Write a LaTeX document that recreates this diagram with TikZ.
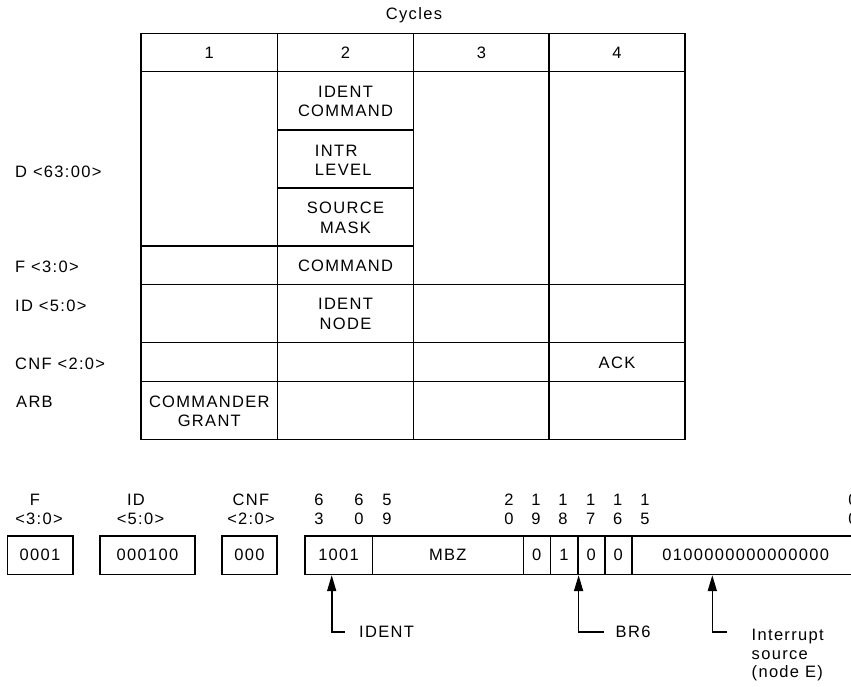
\documentclass[tikz,border=0pt]{standalone}
\usepackage{fontspec}
\setmainfont{Liberation Sans}[LetterSpace=8]
\usetikzlibrary{arrows.meta}
\begin{document}
\begin{tikzpicture}[x=1pt,y=-1pt,line width=1.4pt,
  every node/.style={inner sep=0pt,font=\fontsize{16.5}{19.5}\selectfont},
  txt/.style={align=center},
  rowlbl/.style={anchor=west},
  box/.style={draw,line width=1.6pt,minimum height=38.3pt},
  cell/.style={draw,line width=1.6pt,minimum height=38.3pt,anchor=west},
  arr/.style={-{Triangle[length=16pt,width=9pt]},line width=1.6pt}]
\useasboundingbox (0,0) rectangle (851,686);

% ---------- table ----------
\node (cycles) at (414,15.7) {Cycles};
\draw (141,33.7) rectangle (685,439.3);
\draw (141,71.7) -- (685,71.7);
\draw (277.5,33.7) -- (277.5,439.3);
\draw (413.5,33.7) -- (413.5,439.3);
\draw (549,33.7) -- (549,439.3);
\draw (277.5,130) -- (413.5,130);
\draw (277.5,188) -- (413.5,188);
\draw (141,246) -- (413.5,246);
\draw (141,284.3) -- (685,284.3);
\draw (141,342.7) -- (685,342.7);
\draw (141,381.7) -- (685,381.7);

\node (c1) at (209.3,53) {1};
\node (c2) at (345.5,53) {2};
\node (c3) at (481.5,53) {3};
\node (c4) at (617,53) {4};

\node[txt] (identcmd) at (345.5,101.5) {IDENT\\COMMAND};
\node[align=left] (intr) at (343.3,160.3) {INTR\\LEVEL};
\node[txt] (srcmask) at (345.5,217.8) {SOURCE\\MASK};
\node (command) at (345.5,265.5) {COMMAND};
\node[txt] (identnode) at (345.5,314) {IDENT\\NODE};
\node (ack) at (617,362.5) {ACK};
\node[txt] (cmdgrant) at (209.3,411.3) {COMMANDER\\GRANT};

\node[rowlbl] (lD) at (14.5,171.7) {D <63:00>};
\node[rowlbl] (lF) at (14.5,267.3) {F <3:0>};
\node[rowlbl] (lID) at (14.5,306) {ID <5:0>};
\node[rowlbl] (lCNF) at (14.5,364) {CNF <2:0>};
\node[rowlbl] (lARB) at (15.5,401.7) {ARB};

% ---------- field headers ----------
\node (hF) at (35,500) {F};
\node (hF2) at (39,519) {<3:0>};
\node (hID) at (136,500) {ID};
\node (hID2) at (140.5,519) {<5:0>};
\node (hCNF) at (251,500) {CNF};
\node (hCNF2) at (251,519) {<2:0>};

\foreach \x/\a/\b [count=\i] in {319/6/3,359/6/0,387/5/9,509/2/0,536/1/9,563/1/8,590.7/1/7,617.7/1/6,645/1/5,853/0/0}{
  \node (bt\i) at (\x,500) {\a};
  \node (bb\i) at (\x,519) {\b};
}

% ---------- boxes ----------
\node[box,minimum width=65.4pt] (b1) at (40,555.2) {0001};
\node[box,minimum width=95pt] (b2) at (147.5,555.2) {000100};
\node[box,minimum width=55pt] (b3) at (249.5,555.2) {000};

\node[cell,minimum width=67.6pt] (r1) at (304,555.2) {1001};
\node[cell,minimum width=150.9pt] (r2) at (371.6,555.2) {MBZ};
\node[cell,minimum width=27pt] (r3) at (522.5,555.2) {0};
\node[cell,minimum width=27.5pt] (r4) at (549.5,555.2) {1};
\node[cell,minimum width=27pt] (r5) at (577,555.2) {0};
\node[cell,minimum width=27pt] (r6) at (604,555.2) {0};
\node[cell,minimum width=228pt] (r7) at (631,555.2) {0100000000000000};

% ---------- pointers ----------
\coordinate (ia) at (331.7,632);
\coordinate (ie) at (345,632);
\draw[arr] (ie) -- (ia) -- (ia |- r1.south);
\node[anchor=west] (ident) at (358.5,632.3) {IDENT};

\coordinate (be) at (604,632);
\draw[arr] (be) -| (r4.south east);
\node[anchor=west] (br6) at (615,632.3) {BR6};

\coordinate (ea) at (712.3,631.7);
\coordinate (ee) at (726.7,631.7);
\draw[arr] (ee) -- (ea) -- (ea |- r7.south);
\node[anchor=north west,align=left,font=\fontsize{16.5}{18.7}\selectfont] (intsrc) at (751,628.3) {Interrupt\\source\\(node E)};
\end{tikzpicture}
\end{document}
